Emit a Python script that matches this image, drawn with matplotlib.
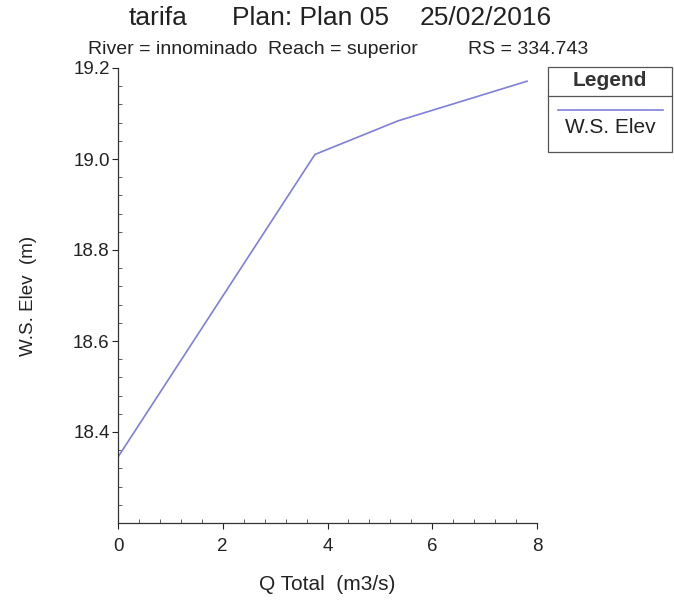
import matplotlib.pyplot as plt
from matplotlib.ticker import MultipleLocator
from matplotlib.patches import Rectangle
from matplotlib.lines import Line2D

plt.rcParams['font.family'] = ['Liberation Sans', 'DejaVu Sans']

# rating curve
q_total = [0.0, 3.76, 5.35, 7.81]
ws_elev = [18.345, 19.01, 19.084, 19.171]

title_parts = ["tarifa", "Plan: Plan 05", "25/02/2016"]
sub_parts = ["River = innominado", "Reach = superior", "RS = 334.743"]
line_color = '#7f7fdc'
W, H = 674, 607

fig = plt.figure(figsize=(W / 100, H / 100), dpi=100)
ax = fig.add_axes([118 / W, 1 - 523 / H, (537 - 118) / W, (523 - 68) / H])

ax.plot(q_total, ws_elev, color=line_color, lw=1.2)

ax.set_xlim(0, 8)
ax.set_ylim(18.2, 19.2)
ax.xaxis.set_major_locator(MultipleLocator(2))
ax.xaxis.set_minor_locator(MultipleLocator(0.4))
ax.yaxis.set_minor_locator(MultipleLocator(0.04))
ax.set_yticks([18.4, 18.6, 18.8, 19.0, 19.2])
ax.set_yticklabels(['18.4', '18.6', '18.8', '19.0', '19.2'])
ax.tick_params(which='major', direction='out', length=4, labelsize=13.5, colors='#222222', width=0.8)
ax.tick_params(which='minor', direction='in', length=3, width=0.6, colors='#444444')
ax.tick_params(axis='x', pad=7)
ax.tick_params(axis='y', pad=2)

for s in ['top', 'right']:
    ax.spines[s].set_visible(False)
for s in ['left', 'bottom']:
    ax.spines[s].set_color('#333333')
    ax.spines[s].set_linewidth(0.9)

ax.set_xlabel('Q Total  (m3/s)', fontsize=15, labelpad=14, color='#222222')
ax.set_ylabel('W.S. Elev  (m)', fontsize=13.5, labelpad=26, color='#222222')

# title lines, placed piece by piece like the HEC-RAS header
ty, sy = 1 - 18 / H, 1 - 49 / H
fig.text(129 / W, ty, title_parts[0], ha='left', va='center', fontsize=19, color='#222222')
fig.text(232 / W, ty, title_parts[1], ha='left', va='center', fontsize=19, color='#222222')
fig.text(552 / W, ty, title_parts[2], ha='right', va='center', fontsize=19, color='#222222')
fig.text(88 / W, sy, sub_parts[0], ha='left', va='center', fontsize=14, color='#222222')
fig.text(268 / W, sy, sub_parts[1], ha='left', va='center', fontsize=14, color='#222222')
fig.text(588 / W, sy, sub_parts[2], ha='right', va='center', fontsize=14, color='#222222')

# legend box
x0, x1, y0, y1 = 548 / W, 672 / W, 1 - 152 / H, 1 - 67 / H
fig.patches.append(Rectangle((x0, y0), x1 - x0, y1 - y0, transform=fig.transFigure,
                             fill=False, ec='#555555', lw=0.9))
fig.lines.append(Line2D([x0, x1], [1 - 96 / H] * 2, transform=fig.transFigure, color='#555555', lw=0.9))
fig.lines.append(Line2D([558 / W, 663 / W], [1 - 110 / H] * 2, transform=fig.transFigure, color=line_color, lw=1.2))
fig.text((x0 + x1) / 2, 1 - 81 / H, 'Legend', ha='center', va='center', fontsize=15, fontweight='bold', color='#333333')
fig.text((x0 + x1) / 2, 1 - 128 / H, 'W.S. Elev', ha='center', va='center', fontsize=15, color='#222222')

fig.savefig('out.png', dpi=100)
